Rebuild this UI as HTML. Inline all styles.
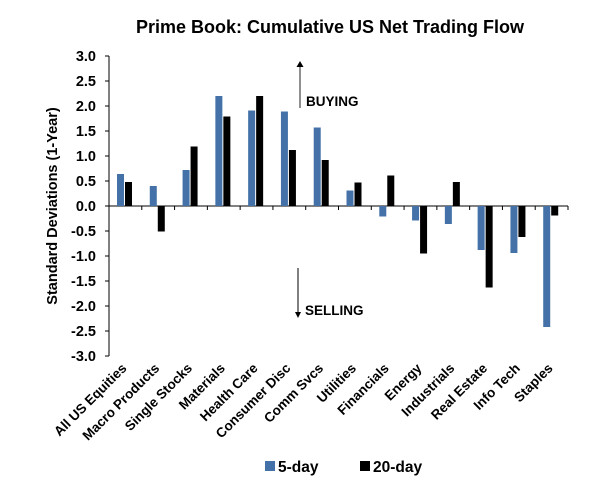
<!DOCTYPE html>
<html><head><meta charset="utf-8"><style>
body{margin:0;background:#fff;}
svg{display:block;font-family:"Liberation Sans",Arial,sans-serif;font-weight:bold;}
</style></head><body>
<svg width="606" height="499">
<text x="330" y="33" text-anchor="middle" font-size="18">Prime Book: Cumulative US Net Trading Flow</text>
<text transform="translate(57,206) rotate(-90)" text-anchor="middle" font-size="14.5">Standard Deviations (1-Year)</text>
<g id="axes"></g>
<g id="bars"></g>
<line x1="300" y1="108" x2="300" y2="66" stroke="#555" stroke-width="1.3"/>
<polygon points="296.5,67 303.5,67 300,61" fill="#000"/>
<text x="306" y="106" font-size="13.5">BUYING</text>
<line x1="298" y1="268" x2="298" y2="313" stroke="#000" stroke-width="1"/>
<polygon points="295,312 301,312 298,318" fill="#000"/>
<text x="305" y="315" font-size="13.5">SELLING</text>
<rect x="265" y="461" width="10" height="10" fill="#4472a8"/>
<text x="278" y="472" font-size="15.5">5-day</text>
<rect x="360" y="461" width="10" height="10" fill="#000"/>
<text x="373" y="472" font-size="15.5">20-day</text>
</svg>
<script>
const categories=["All US Equities","Macro Products","Single Stocks","Materials","Health Care","Consumer Disc","Comm Svcs","Utilities","Financials","Energy","Industrials","Real Estate","Info Tech","Staples"];
const fiveDay=[0.64,0.40,0.72,2.20,1.91,1.89,1.57,0.31,-0.21,-0.29,-0.36,-0.88,-0.94,-2.42];
const twentyDay=[0.48,-0.51,1.19,1.79,2.20,1.12,0.92,0.47,0.61,-0.95,0.48,-1.63,-0.62,-0.19];
const yTicks=[3,2.5,2,1.5,1,0.5,0,-0.5,-1,-1.5,-2,-2.5,-3];
const NS="http://www.w3.org/2000/svg";
const x0=109,x1=568,yTop=56,yBot=356,yMin=-3,yMax=3;
const slot=(x1-x0)/categories.length;
function y(v){return yTop+(yMax-v)/(yMax-yMin)*(yBot-yTop);}
function xs(i){return x0+i*slot;}
function mk(tag,attrs,parent){const e=document.createElementNS(NS,tag);for(const k in attrs)e.setAttribute(k,attrs[k]);parent.appendChild(e);return e;}
const axes=document.getElementById('axes'),bars=document.getElementById('bars');
let ya=mk('line',{x1:x0,y1:yTop,x2:x0,y2:yBot,stroke:'#000','stroke-width':1},axes);


yTicks.forEach(t=>{
  mk('line',{x1:x0-4,x2:x0,y1:y(t),y2:y(t),stroke:'#000'},axes);
  const tx=mk('text',{x:x0-13,y:y(t)+5,'text-anchor':'end','font-size':14.5},axes);
  tx.textContent=t.toFixed(1);
  
  
});
let xa=mk('line',{x1:x0,y1:y(0),x2:x1,y2:y(0),stroke:'#000','stroke-width':1},axes);


for(let i=0;i<=categories.length;i++){mk('line',{x1:xs(i),x2:xs(i),y1:y(0),y2:y(0)+4,stroke:'#000'},axes);}
categories.forEach((c,i)=>{
  const cx=xs(i)+slot/2;
  const tx=mk('text',{'text-anchor':'end','font-size':13.5,transform:`translate(${cx+2},${369}) rotate(-45)`},axes);
  tx.textContent=c;
  
  
  const bw=7;
  [[fiveDay[i],'#4472a8',8],[twentyDay[i],'#000',16]].forEach((d,k)=>{
    const v=d[0],top=Math.min(y(v),y(0)),h=Math.abs(y(v)-y(0));
    const r=mk('rect',{x:xs(i)+d[2],y:top,width:bw,height:h,fill:d[1]},bars);
    
    
  });
});
</script>
</body></html>
